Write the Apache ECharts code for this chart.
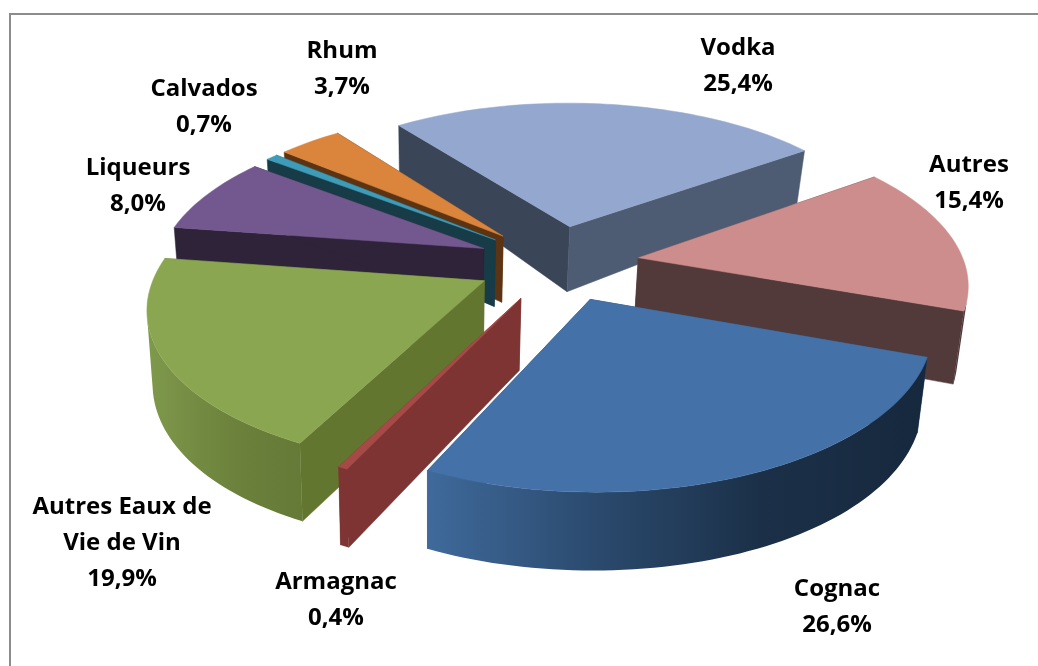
<!DOCTYPE html>
<html>
<head>
<meta charset="utf-8">
<title>Spiritueux</title>
<style>
html, body { margin: 0; padding: 0; background: #fff; }
#main { width: 1038px; height: 666px; }
</style>
<script src="https://cdn.jsdelivr.net/npm/echarts@6/dist/echarts.min.js"></script>
</head>
<body>
<div id="main"></div>
<script>
// values, clockwise from the Autres / Cognac cut
var categories = ['Cognac', 'Armagnac', 'Autres Eaux de\nVie de Vin', 'Liqueurs', 'Calvados', 'Rhum', 'Vodka', 'Autres'];
var shares = [26.6, 0.4, 19.9, 8.0, 0.7, 3.7, 25.4, 15.4];

// styles: top face, start cut, end cut, outer wall gradient (left to right)
var topColors = ['#4472a8', '#a64a47', '#8aa650', '#72588f', '#3f9cb8', '#da843c', '#94a8cf', '#cd8d8c'];
var startCutColors = ['#2a4666', '#7d3433', '#63762f', '#2e2339', '#173c48', '#5c3413', '#3a4558', '#533a3a'];
var endCutColors = ['#2a4666', '#7d3433', '#63762f', '#2e2339', '#173c48', '#5c3413', '#4d5c72', '#533a3a'];
var wallColors = [
    ['#3f6a9b', '#2b4a6e', '#1b3048', '#16283d'],
    ['#7d3433', '#7d3433'],
    ['#7f9a4c', '#738a42', '#697f3a', '#667a37'],
    ['#2e2339', '#2e2339'],
    ['#173c48', '#173c48'],
    ['#5c3413', '#5c3413'],
    ['#3a4558', '#3a4558'],
    ['#533a3a', '#533a3a']
];
var labelCentres = [[837, 607], [336, 600], [122, 543], [138, 186], [204, 107], [342, 69], [738, 66], [969, 183]];

// layout of the projected pie
var startAngle = 109.7;
var centre = [558, 263];
var radiusX = 326, radiusY = 152;
var perspective = 0.149;
var explode = 0.25;
var bottomShrink = 0.02;
var shrinkAxis = 430;

var total = shares.reduce(function (a, b) { return a + b; }, 0);

function rad(d) { return d * Math.PI / 180; }

// wall height: tall at the apexes, short at the far rim
function depthAt(v) {
    return 69 + 15 * v - 6 * v * v;
}

// plane point -> screen, level 0 is the top face and 1 the bottom one
function project(u, v, level) {
    var w = 1 - perspective * v;
    var x = centre[0] + radiusX * u / w;
    var y = centre[1] + radiusY * v / w;
    if (level) {
        x = x - (x - shrinkAxis) * bottomShrink;
        y = y + depthAt(v);
    }
    return [x, y];
}

function sliceAngles(index) {
    var before = 0;
    for (var i = 0; i < index; i++) before += shares[i];
    var a0 = startAngle + before / total * 360;
    return [a0, a0 + shares[index] / total * 360];
}

function polygon(points, fill, z2) {
    return {
        type: 'polygon',
        z2: z2,
        shape: { points: points },
        style: { fill: fill, stroke: typeof fill === 'string' ? fill : null, lineWidth: 0.5 }
    };
}

function signedArea(p) {
    var s = 0;
    for (var i = 0; i < p.length; i++) {
        var q = p[(i + 1) % p.length];
        s += p[i][0] * q[1] - q[0] * p[i][1];
    }
    return s / 2;
}

function renderSlice(params, api) {
    var index = params.dataIndex;
    var angles = sliceAngles(index);
    var mid = rad((angles[0] + angles[1]) / 2);
    var ox = explode * Math.sin(mid), oy = -explode * Math.cos(mid);
    var base = (oy + 1) * 20;   // back slices get painted first
    var children = [];

    var rim = [];
    var steps = Math.max(2, Math.ceil((angles[1] - angles[0]) / 1.5));
    for (var i = 0; i <= steps; i++) {
        var a = rad(angles[0] + (angles[1] - angles[0]) * i / steps);
        rim.push([ox + Math.sin(a), oy - Math.cos(a)]);
    }
    var apexTop = project(ox, oy, 0), apexBottom = project(ox, oy, 1);

    function cut(plane, fill, z) {
        var t = project(plane[0], plane[1], 0), b = project(plane[0], plane[1], 1);
        children.push(polygon([apexTop, t, b, apexBottom], fill, base + z));
    }
    cut(rim[0], startCutColors[index], 1);
    cut(rim[steps], endCutColors[index], 1);

    // outer wall: only the segments turned to the viewer
    var upper = [], lower = [];
    for (var s = 0; s < steps; s++) {
        var quad = [
            project(rim[s][0], rim[s][1], 0), project(rim[s + 1][0], rim[s + 1][1], 0),
            project(rim[s + 1][0], rim[s + 1][1], 1), project(rim[s][0], rim[s][1], 1)
        ];
        if (signedArea(quad) < 0) {
            if (!upper.length) { upper.push(quad[0]); lower.push(quad[3]); }
            upper.push(quad[1]);
            lower.push(quad[2]);
        }
    }
    if (upper.length) {
        var stops = wallColors[index].map(function (c, k, list) {
            return { offset: k / (list.length - 1), color: c };
        });
        children.push(polygon(upper.concat(lower.reverse()),
            new echarts.graphic.LinearGradient(0, 0, 1, 0, stops), base + 2));
    }

    var face = [apexTop];
    rim.forEach(function (p) { face.push(project(p[0], p[1], 0)); });
    children.push(polygon(face, topColors[index], base + 3));

    children.push({
        type: 'text',
        z2: 200,
        style: {
            x: labelCentres[index][0],
            y: labelCentres[index][1],
            text: categories[index] + '\n' + shares[index].toFixed(1).replace('.', ',') + '%',
            align: 'center',
            verticalAlign: 'middle',
            fill: '#000',
            font: 'bold 24px "Open Sans"',
            lineHeight: 36
        }
    });
    return { type: 'group', children: children };
}

var chart = echarts.init(document.getElementById('main'), null, { renderer: 'canvas' });
chart.setOption({
    animation: false,
    backgroundColor: '#fff',
    graphic: [{
        type: 'polyline',
        shape: { points: [[10, 666], [10, 14], [1038, 14]] },
        style: { stroke: '#8c8c8c', lineWidth: 2, fill: null }
    }],
    series: [{
        type: 'custom',
        coordinateSystem: 'none',
        renderItem: renderSlice,
        data: shares
    }]
});
</script>
</body>
</html>
